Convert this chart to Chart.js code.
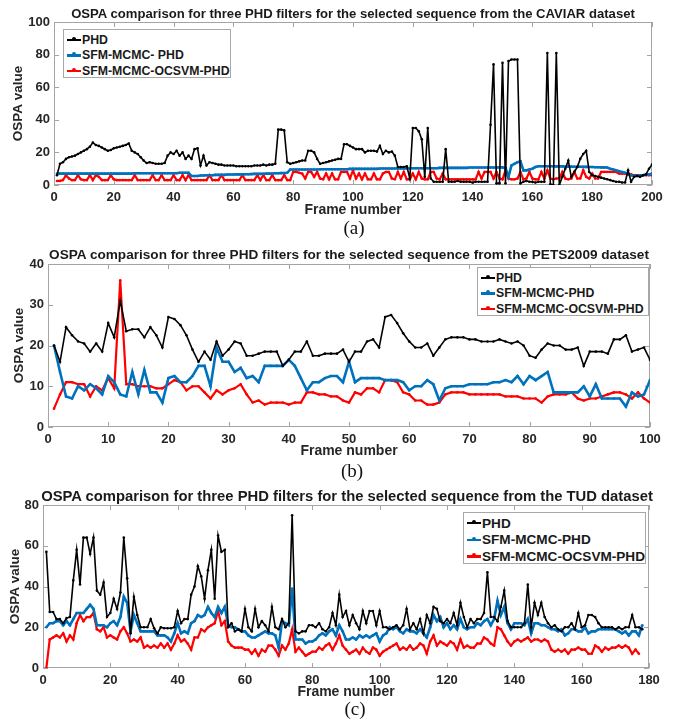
<!DOCTYPE html>
<html>
<head>
<meta charset="utf-8">
<script src="https://cdn.jsdelivr.net/npm/chart.js@4.4.1/dist/chart.umd.min.js"></script>
<style>
    body { margin: 0; background: #fff; width: 674px; height: 719px; position: relative; overflow: hidden;
           font-family: "Liberation Sans", Arial, sans-serif; }
    .panel { position: absolute; left: 0; }
    .plot-title { position: absolute; font-weight: bold; color: #1a1a1a; white-space: nowrap;
                  transform: translate(-50%, -50%); }
    .caption { position: absolute; font-family: "Liberation Serif", "Times New Roman", serif; font-size: 19px;
               color: #111; transform: translate(-50%, -50%); }
    .legend { position: absolute; background: #fff; border: 1px solid #a8a8a8; box-sizing: border-box;
              padding: 2px 0 0 3px; font-weight: bold; color: #1a1a1a; }
    .legend-row { display: flex; align-items: center; white-space: nowrap; }
    .legend-line { position: relative; display: inline-block; width: 14px; margin-right: 1px; }
    .legend-line::after { content: ""; position: absolute; left: 5px; top: -2px; width: 4px; height: 4px;
                          border-radius: 50%; background: inherit; }
</style>
</head>
<body>

<canvas id="chartA" class="panel" width="674" height="222" style="top:0px"></canvas>
<canvas id="chartB" class="panel" width="674" height="227" style="top:236px"></canvas>
<canvas id="chartC" class="panel" width="674" height="224" style="top:480px"></canvas>

<div id="overlay"></div>

<script>
// series names
const seriesNamesA = ["PHD", "SFM-MCMC- PHD", "SFM-MCMC-OCSVM-PHD"];
const seriesNames = ["PHD", "SFM-MCMC-PHD", "SFM-MCMC-OCSVM-PHD"];
const seriesColors = ["#000000", "#0072BD", "#FF0000"];

//..(a) CAVIAR, frames 1..200
const phdA = [
    6, 13, 14, 16, 17, 17.5, 18, 19, 20, 21,
    22, 23.5, 26, 24.5, 24, 23, 22, 21, 21.5, 22.5,
    23, 23.5, 24, 24.5, 25.5, 21, 20, 19, 17, 15,
    13.5, 14, 13.5, 13, 13, 13, 13.5, 18, 20, 19,
    21, 18, 20, 16, 18, 16, 22, 22.5, 12, 18,
    12, 14, 13.5, 13, 12.5, 12.5, 12, 12, 12, 12,
    11.5, 11.5, 11.5, 11.5, 11.5, 11.5, 12, 12, 12, 12.5,
    12, 12.5, 12.5, 13, 34, 34, 33.5, 14, 13, 13.5,
    14, 14.5, 15, 15, 21, 21, 20, 16, 13, 13.5,
    14, 14.5, 15, 15.5, 16, 16, 25, 25, 24, 23,
    22, 22, 22, 20, 21, 21, 21, 20.5, 24, 19,
    21, 20, 20.5, 18, 11, 11, 11, 11.5, 4, 35,
    35, 33, 28, 5, 35, 4, 2, 2, 2, 2,
    22, 2, 2, 2, 2.5, 2, 2, 2, 2, 1.5,
    2, 2, 2, 2, 2, 37, 74, 1, 1, 75,
    1, 76, 77, 77, 77, 1, 2, 2.5, 2, 2,
    1.5, 2, 2, 2, 81, 0.5, 0, 81, 0, 5,
    10, 15, 5, 8, 11, 16, 19, 21, 8, 6,
    5.5, 5, 4.5, 4, 3.5, 3, 2.5, 2, 2, 1.5,
    1.5, 9, 2, 5, 5.5, 5, 6, 6.5, 10, 12.5
];
const mcmcA = [
    7, 7, 7, 7, 7, 7, 7, 7, 7, 7,
    7, 7, 7, 7, 7, 7, 7, 7, 7, 7,
    7, 7, 7, 7, 7, 7, 7.2, 7.2, 7.2, 7.2,
    7.2, 7.2, 7.2, 7.2, 7.2, 7.2, 7.2, 7.2, 7.2, 7.2,
    7.2, 7.5, 7.5, 7.5, 7.5, 5.5, 5.5, 5.5, 5.8, 5.8,
    6, 6, 6, 6.2, 6.2, 6.2, 6.2, 6.4, 6.4, 6.4,
    6.5, 6.5, 6.5, 6.6, 6.6, 6.7, 6.8, 6.8, 6.8, 6.9,
    7, 7, 7, 7.2, 7.2, 7.3, 7.4, 7.5, 9.5, 9.5,
    9.5, 9.5, 9.5, 9.5, 9.5, 9.5, 9.5, 9.5, 9.7, 9.7,
    9.7, 9.7, 9.7, 9.7, 9.7, 9.7, 9.7, 9.7, 9.9, 9.9,
    9.9, 9.9, 9.9, 9.9, 9.9, 9.9, 9.9, 9.9, 10.1, 10.1,
    10.1, 10.1, 10.1, 10.1, 10.1, 10.1, 10.1, 10.1, 10.3, 10.3,
    10.3, 10.3, 10.3, 10.3, 10.3, 10.3, 10.3, 10.3, 10.5, 10.5,
    10.5, 10.5, 10.5, 10.5, 10.5, 10.5, 10.5, 10.5, 10.7, 10.7,
    10.7, 10.7, 10.7, 10.7, 10.7, 10.7, 10.7, 10.7, 10.8, 10.8,
    10.5, 5, 12, 13, 14, 14.5, 9, 9, 9.5, 10,
    11, 11.5, 11.5, 11.5, 11.5, 11.5, 11.5, 11.4, 11.4, 11.4,
    11.3, 11.3, 11.3, 11.2, 11.2, 11.2, 11.1, 11.1, 11, 11,
    10.9, 10.9, 10.8, 10.8, 10.7, 10, 9.5, 9, 8.5, 8,
    7.5, 7, 6, 5.5, 5.5, 6, 6, 6.5, 6.5, 7
];
const ocsvmA = [
    2.5, 2.5, 3, 6, 4, 3, 3, 6, 3.5, 3,
    3, 6, 3, 6, 5, 3, 3, 3, 6, 3.5,
    3, 3, 3, 3, 3, 3, 6, 3, 3, 3,
    3, 3, 6, 3, 3, 6, 3, 3, 3, 6,
    3, 3, 6, 3, 6, 3, 3, 3, 3, 3,
    3, 6, 3, 3, 3, 6, 3, 3, 3, 3,
    3, 3, 6, 3, 3, 3, 3, 6, 3, 6,
    3, 3, 6, 3, 3, 3, 6, 3, 3, 8,
    8, 7.5, 7, 4, 8, 8, 5, 8, 4, 3.5,
    7, 3.5, 7, 3.5, 3.5, 8, 8, 8, 4, 9,
    4, 7, 3.5, 7, 3.5, 3.5, 7, 3.5, 3.5, 7,
    8, 8, 4, 3.5, 8, 4, 8, 3.5, 3.5, 7,
    3.5, 8, 4, 3.5, 3.5, 8, 8, 4, 3.5, 7,
    3.5, 3.5, 3.5, 3.5, 3.5, 3.5, 3.5, 3.5, 3.5, 3.5,
    3.5, 8, 4, 8, 8, 8, 4, 8, 4, 3.5,
    9, 4, 3.5, 3.5, 4, 8, 3.5, 4, 8, 4,
    3.5, 3.5, 8, 4, 9, 4, 3.5, 4, 4, 8,
    4, 3.5, 4, 8, 4, 4, 9, 5, 4, 7,
    4, 4, 8, 8, 8, 8, 8, 8, 7, 7,
    7, 6.5, 6.5, 6, 6, 6, 6, 6, 6, 6
];

//..(b) PETS2009, frames 1..100
const phdB = [
    20, 16, 24.5, 22.5, 21, 20.5, 18.5, 20.5, 18.5, 25.5,
    22, 31, 23.5, 24, 24, 22, 24.5, 22.5, 19.5, 27,
    26.5, 25, 22.5, 19, 16, 18.5, 16.5, 21, 17.5, 19,
    21, 20.5, 17.5, 17.5, 18, 18.5, 18.5, 18.5, 15, 16.5,
    18.5, 18.5, 21, 17.5, 17.5, 18, 18, 18, 19, 16,
    18.5, 18.5, 21, 21.5, 19.5, 27, 27.5, 25.5, 23, 21,
    19.5, 19.5, 20.5, 17.5, 19.5, 21.5, 22, 22, 22, 21.5,
    21.5, 21, 21, 21, 21.5, 21, 20.5, 21, 20, 17.5,
    17, 19, 20.5, 20, 20, 19, 19, 19.5, 15, 18.5,
    18.5, 18.5, 18, 21.5, 21.5, 22.5, 18.5, 19, 19.5, 16.5
];
const mcmcB = [
    20, 13.5, 7.5, 7, 10, 9, 10.5, 9.5, 8, 12.5,
    11, 8, 7.5, 13.5, 8, 14, 8.5, 8.5, 6, 12,
    12.5, 11, 11, 12.5, 15, 15, 10, 19.5, 16, 16,
    13.5, 14.5, 12, 12.5, 11, 15, 15, 15, 15, 16.5,
    15, 12, 9, 11, 11, 12, 12.5, 12.5, 11, 16,
    11, 12, 12, 12, 12, 11.5, 11.5, 11.5, 11, 9,
    10, 10, 11.5, 10.5, 6.5, 9.5, 10, 10, 10, 10.5,
    10.5, 10.5, 10.5, 11, 11, 11.5, 11, 12.5, 10.5, 12.5,
    11.5, 12.5, 13.5, 8.5, 8.5, 8.5, 8.5, 8.5, 10, 7.5,
    10.5, 7, 7, 7, 7, 5, 8.5, 7.5, 8, 11.5
];
const ocsvmB = [
    4.5, 8, 11, 11, 10.5, 10.5, 7.5, 10, 9, 12,
    9.5, 36, 10.5, 10.5, 10, 10, 10, 9.5, 9.5, 10.5,
    11.5, 11, 9, 10, 10, 8.5, 7, 9, 8, 9,
    9.5, 10.5, 8, 6, 6.5, 5.5, 6, 6, 6, 5.5,
    6, 6, 8.5, 8.5, 8, 8, 7.5, 7.5, 6.5, 6,
    8.5, 8, 9.5, 9.5, 8.5, 11.5, 11.5, 11, 8.5, 8,
    6.5, 6.5, 5.5, 5.5, 6, 8, 8.5, 8.5, 8.5, 8,
    8, 8, 8, 8, 8, 7.5, 7.5, 7.5, 7, 7,
    7, 6, 7.5, 8, 8, 8, 8.5, 7, 6.5, 7,
    7, 7.5, 8, 8.5, 8.5, 8, 7, 8.5, 7, 6
];

//..(c) TUD, frames 1..178
const phdC = [
    57, 27.5, 27.5, 24, 24, 22, 24.5, 25, 43, 58,
    41, 64, 64, 56, 64, 38, 36, 42, 25, 27,
    34, 29, 37, 64, 44, 17, 35, 26, 20, 20,
    20, 24, 19.5, 17, 20, 19.5, 19.5, 19.5, 20, 28,
    22, 24, 24, 36, 40, 50, 45, 34, 48, 58,
    34, 65, 57, 58, 20, 22, 18, 19, 18, 29,
    20, 18, 29, 20, 23, 21, 18, 30, 20, 19,
    24, 20, 22, 75, 18, 17, 18, 18, 21, 21,
    20, 22, 19, 18, 20, 27, 21, 36, 25, 28,
    21, 26, 22, 19, 28, 22, 28, 28, 21, 28,
    20, 20, 19, 20, 21, 19, 21, 29, 19, 22,
    19, 24, 17, 26, 22, 30, 29, 23, 22, 24,
    22, 27, 21, 32, 25, 20, 24, 22, 24, 24,
    27, 47, 25, 25, 23, 30, 38, 23, 20, 20,
    20, 20, 22, 41, 20, 32, 26, 32, 25, 22,
    20, 21, 19, 18, 20, 20, 22, 19, 27, 20,
    21, 26, 26, 25, 22, 20, 20, 20, 20, 19,
    20, 19, 20, 20, 26, 20, 20, 19
];
const mcmcC = [
    20, 22, 22, 23, 23, 21, 23, 21, 24, 27,
    27, 27, 29, 31, 29, 21, 21, 21, 20, 22,
    23, 21, 25, 35, 32, 18, 26, 22, 18, 18,
    18, 18, 18, 16, 16, 16, 15, 13, 17, 22,
    17, 18, 17, 22, 23, 26, 25, 26, 30, 27,
    25, 30, 27, 30, 21, 20, 20, 19, 18, 18,
    16, 15, 15, 16, 17, 18, 17, 17, 16, 10,
    23, 22, 21, 39, 14, 14, 14, 12, 13, 13,
    14, 16, 17, 16, 18, 19, 16, 21, 18, 14,
    14, 15, 14, 16, 15, 16, 15, 16, 17, 13,
    16, 17, 20, 19, 20, 18, 17, 19, 18, 18,
    17, 19, 17, 15, 20, 26, 23, 25, 20, 22,
    19, 21, 19, 24, 20, 19, 20, 20, 22, 21,
    23, 24, 21, 24, 33, 26, 30, 22, 19, 22,
    22, 22, 21, 24, 17, 22, 22, 21, 21, 20,
    19, 19, 18, 19, 16, 17, 19, 19, 18, 18,
    20, 17, 18, 18, 19, 19, 19, 19, 19, 19,
    18, 17, 18, 16, 18, 18, 16, 21
];
const ocsvmC = [
    0, 14, 15, 16, 15, 17, 13, 16, 14, 22,
    26, 23, 25, 25, 27, 19, 18, 20, 15, 16,
    15, 14, 18, 20, 17, 13, 14, 13, 15, 10,
    11, 10, 11, 10, 12, 10, 12, 9, 12, 16,
    13, 14, 12, 9, 15, 15, 19, 18, 20, 21,
    22, 28, 21, 23, 13, 11, 10, 10, 10, 9,
    9, 7, 9, 6, 9, 8, 11, 11, 9, 6,
    11, 9, 12, 19, 8, 10, 8, 6, 7, 8,
    8, 10, 9, 11, 12, 9, 12, 16, 11, 9,
    7, 8, 9, 7, 10, 8, 7, 10, 9, 6,
    8, 9, 10, 11, 12, 9, 10, 9, 11, 9,
    10, 12, 11, 7, 13, 16, 11, 13, 12, 11,
    13, 12, 9, 14, 10, 11, 10, 10, 12, 12,
    15, 14, 12, 11, 20, 19, 16, 13, 11, 13,
    14, 13, 14, 15, 13, 14, 14, 13, 14, 13,
    9, 8, 9, 8, 9, 7, 9, 9, 10, 9,
    9, 7, 7, 11, 10, 8, 10, 9, 10, 10,
    11, 10, 11, 10, 7, 9, 7
];

// axis ranges / ticks
const axesA = { xMax: 200, xStep: 20, yMax: 100, yStep: 20 };
const axesB = { xMax: 100, xStep: 10, yMax: 40, yStep: 10 };
const axesC = { xMax: 180, xStep: 20, yMax: 80, yStep: 20 };

const titles = [
    "OSPA comparison for three PHD filters for the selected sequence from the CAVIAR dataset",
    "OSPA comparison for three PHD filters for the selected sequence from the PETS2009 dataset",
    "OSPA comparison for three PHD filters for the selected sequence from the TUD dataset"
];
const captions = ["(a)", "(b)", "(c)"];

const FONT = '"Liberation Sans", Arial, sans-serif';
const AXIS_GRAY = '#a4a4a4';

//..matlab style box with inward ticks on all four sides
const matlabBox = {
    id: 'matlabBox',
    beforeDatasetsDraw(chart) {
        const { ctx, chartArea: a, scales: { x, y } } = chart;
        ctx.save();
        ctx.strokeStyle = AXIS_GRAY;
        ctx.lineWidth = 1;
        ctx.strokeRect(a.left + 0.5, a.top + 0.5, a.width - 1, a.height - 1);
        ctx.beginPath();
        x.ticks.forEach(t => {
            const px = Math.round(x.getPixelForValue(t.value)) + 0.5;
            ctx.moveTo(px, a.bottom); ctx.lineTo(px, a.bottom - 5);
            ctx.moveTo(px, a.top); ctx.lineTo(px, a.top + 5);
        });
        y.ticks.forEach(t => {
            const py = Math.round(y.getPixelForValue(t.value)) + 0.5;
            ctx.moveTo(a.left, py); ctx.lineTo(a.left + 5, py);
            ctx.moveTo(a.right, py); ctx.lineTo(a.right - 5, py);
        });
        ctx.stroke();
        ctx.restore();
    }
};

function toPoints(values) {
    return values.map((v, i) => ({ x: i + 1, y: v }));
}

function makeDatasets(names, lists) {
    const widths = [1.6, 2.6, 2.2];
    return lists.map((vals, i) => ({
        label: names[i],
        data: toPoints(vals),
        borderColor: seriesColors[i],
        backgroundColor: seriesColors[i],
        borderWidth: widths[i],
        pointRadius: 1.3,
        pointBorderWidth: 0,
        pointBackgroundColor: seriesColors[i],
        tension: 0
    }));
}

// Create one OSPA chart panel
function createPanel(canvasId, datasets, axes, box) {
    const ctx = document.getElementById(canvasId);
    new Chart(ctx, {
        type: 'line',
        data: { datasets: datasets },
        options: {
            responsive: false,
            animation: false,
            devicePixelRatio: 1,
            layout: { padding: { top: box.top, right: box.right, left: 0, bottom: 0 } },
            scales: {
                x: {
                    type: 'linear',
                    min: 0,
                    max: axes.xMax,
                    border: { display: false },
                    grid: { display: false, drawTicks: false },
                    ticks: {
                        stepSize: axes.xStep,
                        padding: 5,
                        maxRotation: 0,
                        color: '#262626',
                        font: { family: FONT, size: 13, weight: 'bold' }
                    },
                    title: {
                        display: true,
                        text: 'Frame number',
                        color: '#262626',
                        padding: { top: 0, bottom: 3 },
                        font: { family: FONT, size: 14, weight: 'bold' }
                    },
                    afterFit(scale) { scale.height = box.xHeight; }
                },
                y: {
                    min: 0,
                    max: axes.yMax,
                    border: { display: false },
                    grid: { display: false, drawTicks: false },
                    ticks: {
                        stepSize: axes.yStep,
                        padding: 4,
                        color: '#262626',
                        font: { family: FONT, size: 13, weight: 'bold' }
                    },
                    title: {
                        display: true,
                        text: 'OSPA value',
                        color: '#262626',
                        padding: { top: box.yTitlePad, bottom: 0 },
                        font: { family: FONT, size: 13.5, weight: 'bold' }
                    },
                    afterFit(scale) { scale.width = box.yWidth; }
                }
            },
            plugins: {
                legend: { display: false },
                title: { display: false },
                tooltip: { enabled: false }
            }
        },
        plugins: [matlabBox]
    });
}

//..html titles, captions and legends
function addText(cls, text, x, y, size) {
    const el = document.createElement('div');
    el.className = cls;
    el.textContent = text;
    el.style.left = x + 'px';
    el.style.top = y + 'px';
    if (size) el.style.fontSize = size + 'px';
    document.getElementById('overlay').appendChild(el);
}

function addLegend(names, left, top, width, height, size, rowH) {
    const legend = document.createElement('div');
    legend.className = 'legend';
    legend.style.cssText = `left:${left}px;top:${top}px;width:${width}px;height:${height}px;font-size:${size}px`;
    names.forEach((name, i) => {
        const row = document.createElement('div');
        row.className = 'legend-row';
        row.style.height = rowH + 'px';
        row.innerHTML = `<span class="legend-line" style="height:${i === 0 ? 2 : 2.5}px;background:${seriesColors[i]}"></span><span>${name}</span>`;
        legend.appendChild(row);
    });
    document.getElementById('overlay').appendChild(legend);
}

document.addEventListener('DOMContentLoaded', function () {
    createPanel('chartA', makeDatasets(seriesNamesA, [phdA, mcmcA, ocsvmA]), axesA,
        { top: 22, right: 22, xHeight: 37, yWidth: 54, yTitlePad: 10 });
    createPanel('chartB', makeDatasets(seriesNames, [phdB, mcmcB, ocsvmB]), axesB,
        { top: 28, right: 24, xHeight: 36, yWidth: 48, yTitlePad: 11 });
    createPanel('chartC', makeDatasets(seriesNames, [phdC, mcmcC, ocsvmC]), axesC,
        { top: 25, right: 25, xHeight: 36, yWidth: 43, yTitlePad: 7 });

    addText('plot-title', titles[0], 353, 13, 13.1);
    addText('plot-title', titles[1], 349, 254, 13.6);
    addText('plot-title', titles[2], 347, 496, 14.8);

    addText('caption', captions[0], 354, 228);
    addText('caption', captions[1], 352, 471);
    addText('caption', captions[2], 355, 709);

    addLegend(seriesNamesA, 63, 29, 168, 49, 12.3, 15.5);
    addLegend(seriesNames, 477, 267, 172, 49, 12.3, 15.5);
    addLegend(seriesNames, 463, 512, 183, 52, 13.6, 16.5);
});
</script>
</body>
</html>
